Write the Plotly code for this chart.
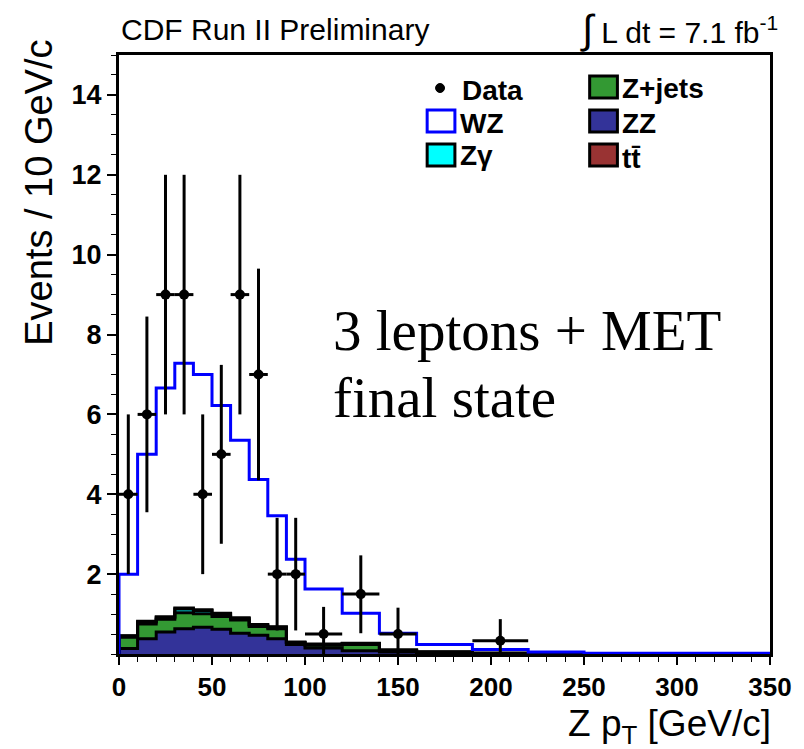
import numpy as np
import plotly.graph_objects as go

# ---------------- data ----------------
bin_edges = [0, 10, 20, 30, 40, 50, 60, 70, 80, 90, 100, 120, 140, 160, 190, 220, 250, 350]
zz     = [0.14, 0.38, 0.55, 0.63, 0.67, 0.62, 0.52, 0.47, 0.38, 0.24, 0.15, 0.08, 0.05, 0.03, 0.015, 0.01, 0.005]
zjets  = [0.28, 0.37, 0.32, 0.40, 0.34, 0.32, 0.33, 0.22, 0.25, 0.04, 0.07, 0.16, 0.04, 0.02, 0.005, 0.0, 0.0]
zgamma = [0.03, 0.05, 0.04, 0.10, 0.08, 0.06, 0.04, 0.03, 0.04, 0.01, 0.02, 0.02, 0.01, 0.0, 0.0, 0.0, 0.0]
ttbar  = [0.01, 0.02, 0.02, 0.02, 0.02, 0.02, 0.02, 0.02, 0.01, 0.01, 0.01, 0.01, 0.0, 0.0, 0.0, 0.0, 0.0]
wz     = [1.54, 4.18, 5.73, 6.13, 5.89, 5.20, 4.44, 3.63, 2.78, 2.075, 1.38, 0.75, 0.42, 0.19, 0.09, 0.04, 0.015]

data_x   = [5, 15, 25, 35, 45, 55, 65, 75, 85, 95, 110, 130, 150, 205]
data_y   = [4, 6, 9, 9, 4, 5, 9, 7, 2, 2, 0.5, 1.5, 0.5, 0.333]
data_eup = [2, 2.45, 3, 3, 2, 2.24, 3, 2.65, 1.41, 1.41, 0.68, 0.97, 0.66, 0.54]
data_edn = [2, 2.45, 3, 3, 2, 2.24, 3, 2.65, 1.41, 1.41, 0.5, 0.98, 0.5, 0.333]
data_ex  = [5, 5, 5, 5, 5, 5, 5, 5, 5, 5, 10, 10, 10, 15]

y_tick_vals = [2, 4, 6, 8, 10, 12, 14]
x_tick_vals = [0, 50, 100, 150, 200, 250, 300, 350]

# ---------------- geometry helpers ----------------
W, H = 804, 749
L, R, T, B = 119, 28, 55, 95
PW, PH = W - L - R, H - T - B

def px(x):
    return (x - L) / PW

def py(y):
    return (H - B - y) / PH

def step(vals):
    xs = [bin_edges[0]] + list(bin_edges)
    ys = [0.0] + list(vals) + [0.0]
    return xs, ys

c1 = np.array(zz)
c2 = c1 + np.array(zjets)
c3 = c2 + np.array(zgamma)
c4 = c3 + np.array(ttbar)
c5 = c4 + np.array(wz)

GREEN = "#339933"
NAVY = "#333399"
CYAN = "#00ffff"
RED = "#993333"
BLUE = "#0000ff"

fig = go.Figure()

for cum, col, fill in [(c1, NAVY, "tozeroy"), (c2, GREEN, "tonexty"),
                       (c3, CYAN, "tonexty"), (c4, RED, "tonexty")]:
    xs, ys = step(cum)
    fig.add_trace(go.Scatter(x=xs, y=ys, mode="lines", line=dict(shape="hv", color="black", width=3),
                             fill=fill, fillcolor=col, hoverinfo="skip", showlegend=False))

xs, ys = step(c5)
fig.add_trace(go.Scatter(x=xs, y=ys, mode="lines", line=dict(shape="hv", color=BLUE, width=3),
                         hoverinfo="skip", showlegend=False))

fig.add_trace(go.Scatter(
    x=data_x, y=data_y, mode="markers",
    marker=dict(color="black", size=10, symbol="circle"),
    error_y=dict(type="data", symmetric=False, array=data_eup, arrayminus=data_edn,
                 color="black", thickness=3, width=0),
    error_x=dict(type="data", array=data_ex, color="black", thickness=3, width=0),
    showlegend=False, hoverinfo="skip"))

# ---------------- legend (drawn manually) ----------------
shapes = []
annotations = []
FONT = "Liberation Sans"

def box(x0, y0, x1, y1, fillc, linec, lw=3):
    shapes.append(dict(type="rect", xref="paper", yref="paper", x0=px(x0), x1=px(x1), y0=py(y1), y1=py(y0),
                       fillcolor=fillc, line=dict(color=linec, width=lw)))

def label(x, y, text, size=28, bold=True):
    annotations.append(dict(xref="paper", yref="paper", x=px(x), y=py(y), text=("<b>%s</b>" % text) if bold else text,
                            showarrow=False, xanchor="left", yanchor="middle",
                            font=dict(family=FONT, size=size, color="black")))

shapes.append(dict(type="circle", xref="paper", yref="paper", x0=px(438.5), x1=px(447.5), y0=py(92.5), y1=py(83.5),
                   fillcolor="black", line=dict(color="black", width=1)))
label(463, 91, "Data")
box(430, 110, 458, 132, "white", BLUE)
label(461, 123, "WZ")
box(430, 144, 458, 166, CYAN, "black")
label(461, 155, "Zγ")
box(594, 76, 622, 98, GREEN, "black")
label(625, 88, "Z+jets")
box(594, 110, 622, 132, NAVY, "black")
label(625, 123, "ZZ")
box(594, 144, 622, 166, RED, "black")
label(625, 158, "tt\u0304")

# ---------------- texts ----------------
annotations.append(dict(xref="paper", yref="paper", x=px(119), y=py(30), text="CDF Run II Preliminary",
                        showarrow=False, xanchor="left", yanchor="middle",
                        font=dict(family=FONT, size=30, color="black")))
annotations.append(dict(xref="paper", yref="paper", x=px(786), y=py(30),
                        text="<span style='font-size:40px'>∫</span> L dt = 7.1 fb<sup>-1</sup>",
                        showarrow=False, xanchor="right", yanchor="middle",
                        font=dict(family=FONT, size=30, color="black")))
annotations.append(dict(xref="paper", yref="paper", x=px(333), y=py(330), text="3 leptons + MET",
                        showarrow=False, xanchor="left", yanchor="middle",
                        font=dict(family="Liberation Serif", size=57, color="black")))
annotations.append(dict(xref="paper", yref="paper", x=px(333), y=py(398), text="final state",
                        showarrow=False, xanchor="left", yanchor="middle",
                        font=dict(family="Liberation Serif", size=57, color="black")))
annotations.append(dict(xref="paper", yref="paper", x=px(38), y=py(38), text="Events / 10 GeV/c",
                        showarrow=False, xanchor="center", yanchor="top", textangle=-90,
                        font=dict(family=FONT, size=38, color="black")))
annotations.append(dict(xref="paper", yref="paper", x=px(779), y=py(726), text="Z p<sub>T</sub> [GeV/c]",
                        showarrow=False, xanchor="right", yanchor="middle",
                        font=dict(family=FONT, size=37, color="black")))

fig.update_layout(
    width=W, height=H, autosize=False,
    margin=dict(l=L, r=R, t=T, b=B),
    paper_bgcolor="white", plot_bgcolor="white",
    shapes=shapes, annotations=annotations, showlegend=False,
    xaxis=dict(range=[0, 350], tickmode="array", tickvals=x_tick_vals,
               ticktext=["<b>%d</b>" % v for v in x_tick_vals],
               ticks="outside", ticklen=8, tickwidth=1.5, tickcolor="black",
               showline=True, linecolor="black", linewidth=3, mirror=True,
               showgrid=False, zeroline=False,
               tickfont=dict(family=FONT, size=26, color="black"),
               minor=dict(tickmode="linear", tick0=0, dtick=10, ticks="outside", ticklen=5,
                          tickwidth=1, tickcolor="black", showgrid=False)),
    yaxis=dict(range=[0, 15], tickmode="array", tickvals=y_tick_vals,
               ticktext=["<b>%d</b>" % v for v in y_tick_vals],
               ticks="outside", ticklen=9, tickwidth=1.5, tickcolor="black",
               showline=True, linecolor="black", linewidth=3, mirror=True,
               showgrid=False, zeroline=False,
               tickfont=dict(family=FONT, size=27, color="black"),
               minor=dict(tickmode="linear", tick0=0, dtick=0.5, ticks="outside", ticklen=5,
                          tickwidth=1, tickcolor="black", showgrid=False)),
)

fig.write_html("out.html")
